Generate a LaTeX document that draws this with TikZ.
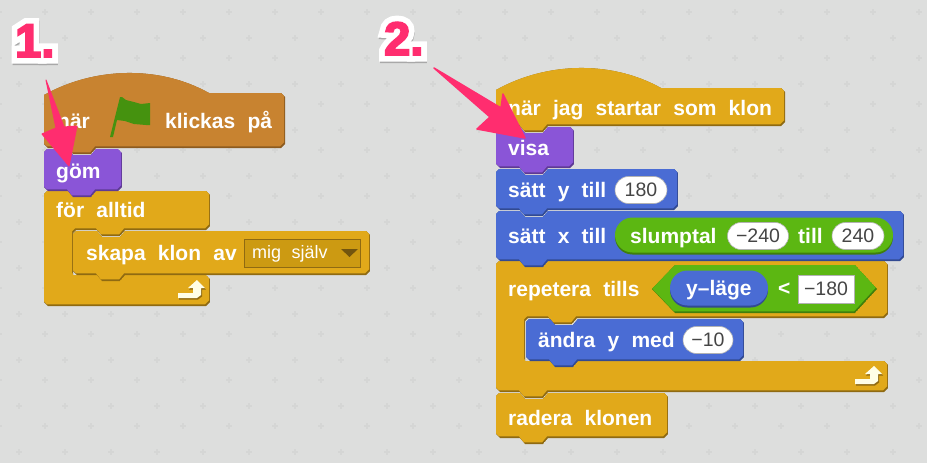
\documentclass[tikz,border=0pt]{standalone}
\usepackage{fontspec}
\setmainfont{Liberation Sans}[WordSpace=2.1]
\newfontfamily\ringfont{Liberation Sans Bold}[FakeBold=28]
\newfontfamily\shadefont{Liberation Sans Bold}[FakeBold=26]
\newfontfamily\numberfont{Liberation Sans Bold}[FakeBold=4]
\usetikzlibrary{shapes.misc,shadows}

\definecolor{sheetgrey}{HTML}{DDDEDD}
\definecolor{plusgrey}{HTML}{D5D6D5}
\definecolor{arrowpink}{HTML}{FF2D6F}
\definecolor{shadowgrey}{HTML}{A8A8A8}
\definecolor{numbergrey}{HTML}{454545}
\definecolor{blockgold}{HTML}{E1A91A}
\definecolor{blockgolddark}{HTML}{8F6A12}
\definecolor{blockbrown}{HTML}{C88330}
\definecolor{blockbrowndark}{HTML}{8D5B1F}
\definecolor{blockpurple}{HTML}{8A55D7}
\definecolor{blockpurpledark}{HTML}{5E3A94}
\definecolor{blockblue}{HTML}{4A6CD4}
\definecolor{blockbluedark}{HTML}{324A92}
\definecolor{blockgreen}{HTML}{5CB712}
\definecolor{blockgreendark}{HTML}{3F7F0C}
\definecolor{flaggreen}{HTML}{45920F}
\definecolor{menugold}{HTML}{CC9A12}

% Block outlines: left, top, right, bottom (in reference pixels)
\newcommand{\stackpath}[4]{(#1,{#2+3}) -- ({#1+3},#2) -- ({#1+24},#2) -- ({#1+29},{#2+6}) -- ({#1+47},{#2+6}) -- ({#1+52},#2) -- ({#3-4},#2) -- (#3,{#2+4}) -- (#3,{#4-4}) -- ({#3-4},#4) -- ({#1+52},#4) -- ({#1+47},{#4+6}) -- ({#1+29},{#4+6}) -- ({#1+24},#4) -- ({#1+4},#4) -- (#1,{#4-4}) -- cycle}
\newcommand{\hatpath}[4]{(#1,{#2+2}) .. controls ({#1+50},{#2-26}) and ({#1+115},{#2-28}) .. ({#1+165},#2) -- ({#3-4},#2) -- (#3,{#2+4}) -- (#3,{#4-4}) -- ({#3-4},#4) -- ({#1+52},#4) -- ({#1+47},{#4+6}) -- ({#1+29},{#4+6}) -- ({#1+24},#4) -- ({#1+4},#4) -- (#1,{#4-4}) -- cycle}
% Wrapping block: left, top, right, arm bottom, inner bottom, bottom, depth of the lower bump
\newcommand{\wrappath}[7]{(#1,{#2+3}) -- ({#1+3},#2) -- ({#1+24},#2) -- ({#1+29},{#2+6}) -- ({#1+47},{#2+6}) -- ({#1+52},#2) -- ({#3-4},#2) -- (#3,{#2+4}) -- (#3,{#4-4}) -- ({#3-4},#4) -- ({#1+81},#4) -- ({#1+76},{#4+6}) -- ({#1+58},{#4+6}) -- ({#1+53},#4) -- ({#1+32},#4) -- ({#1+29},{#4+3}) -- ({#1+29},#5) -- ({#3-4},#5) -- (#3,{#5+4}) -- (#3,{#6-4}) -- ({#3-4},#6) -- ({#1+52},#6) -- ({#1+47},{#6+#7}) -- ({#1+29},{#6+#7}) -- ({#1+24},#6) -- ({#1+4},#6) -- (#1,{#6-4}) -- cycle}
% Fill an outline, leaving a dark edge at the bottom and right
\newcommand{\blockshape}[2]{%
	\begin{scope}
		\clip #2;
		\fill[#1dark] #2;
		\fill[#1,xshift=-1pt,yshift=1.6pt] #2;
	\end{scope}
}

\begin{document}
\begin{tikzpicture}[
		x=1pt,y=-1pt,
		blocklabel/.style={
			text=white,
			anchor=base west,
			inner sep=0pt,
			font=\fontsize{21}{24}\selectfont\bfseries,
		},
		numfield/.style={
			rounded rectangle,
			fill=white,
			draw=black!30,
			line width=0.6pt,
			inner sep=0pt,
			minimum height=27pt,
			text=numbergrey,
			font=\fontsize{19.5}{22}\selectfont,
		},
		reporter/.style={
			rounded rectangle,
			inner sep=0pt,
			general shadow={shadow xshift=0pt,shadow yshift=-2pt,fill=#1dark},
			fill=#1,
		},
		biglabel/.style={
			anchor=base west,
			inner sep=0pt,
		},
	]
	\useasboundingbox (0,0) rectangle (927,463);
	% Draw the sheet and its plus marks
	\fill[sheetgrey] (0,0) rectangle (927,463);
	\foreach \i in {0,...,20} {
		\foreach \j in {-1,...,9} {
			\draw[plusgrey,line width=1.4pt] ({19+46*\i-3},{38+46*\j}) -- ++(6,0) ({19+46*\i},{38+46*\j-3}) -- ++(0,6);
			\draw[plusgrey,line width=1.4pt] ({-1+46*\i-3},{58+46*\j}) -- ++(6,0) ({-1+46*\i},{58+46*\j-3}) -- ++(0,6);
		}
	}
	% Draw the first stack, lowest block first
	\blockshape{blockgold}{\wrappath{44}{191}{210}{230}{275}{306}{0}}
	\blockshape{blockgold}{\stackpath{73}{231}{370}{275}}
	\blockshape{blockpurple}{\stackpath{44}{149}{122}{191}}
	\blockshape{blockbrown}{\hatpath{44}{93}{285}{148}}
	% Draw the flag
	\fill[flaggreen] (110,137) -- (120,97) -- (122,97) -- (126,100) -- (134,102) -- (141,104) -- (150,103) -- (150,125) -- (146,125) -- (134,124) -- (125,121) -- (117,120) -- (113,137) -- cycle;
	% Draw the first stack's labels
	\node[blocklabel] (whenlabel) at (57,128) {när};
	\node[blocklabel] (clickedlabel) at (165,128) {klickas på};
	\node[blocklabel] (hidelabel) at (56,178) {göm};
	\node[blocklabel] (foreverlabel) at (56,217) {för alltid};
	\node[blocklabel] (clonelabel) at (86,260) {skapa klon av};
	% Draw the menu
	\node[fill=menugold,draw=blockgolddark,line width=0.8pt,minimum width=116pt,minimum height=28pt,inner sep=0pt] (menubox) at (302,253.5) {};
	\node[anchor=base west,inner sep=0pt,text=white,font=\fontsize{18}{20}\selectfont] (menulabel) at (252,258) {mig själv};
	\fill[blockgolddark!80!black] (341,249) -- (358,249) -- (349.5,257) -- cycle;
	% Draw the second stack, lowest block first
	\blockshape{blockgold}{\stackpath{496}{393}{668}{438}}
	\blockshape{blockgold}{\wrappath{496}{261}{888}{318}{361}{392}{6}}
	\blockshape{blockblue}{\stackpath{526}{319}{744}{361}}
	\blockshape{blockblue}{\stackpath{496}{211}{904}{261}}
	\blockshape{blockblue}{\stackpath{496}{169}{678}{210}}
	\blockshape{blockpurple}{\stackpath{496}{127}{574}{168}}
	\blockshape{blockgold}{\hatpath{496}{88}{785}{126}}
	% Draw the second stack's labels
	\node[blocklabel] (startlabel) at (508,115) {när jag startar som klon};
	\node[blocklabel] (showlabel) at (508,155) {visa};
	\node[blocklabel] (setylabel) at (508,197) {sätt y till};
	\node[blocklabel] (setxlabel) at (508,243) {sätt x till};
	\node[blocklabel] (repeatlabel) at (508,296) {repetera tills};
	\node[blocklabel] (changelabel) at (538,347) {ändra y med};
	\node[blocklabel] (deletelabel) at (508,425) {radera klonen};
	% Draw the number fields and the reporters
	\node[numfield,minimum width=52pt] (starty) at (641,190) {180};
	\node[reporter=blockgreen,minimum width=278pt,minimum height=35pt] (random) at (754,235) {};
	\node[blocklabel] (randomlabel) at (630,243) {slumptal};
	\node[numfield,minimum width=61pt] (randomlow) at (758,236) {−240};
	\node[blocklabel] (randomto) at (798,243) {till};
	\node[numfield,minimum width=52pt] (randomhigh) at (858,236) {240};
	\node[numfield,minimum width=50pt] (stepy) at (708,340) {−10};
	% Draw the condition
	\blockshape{blockgreen}{(652,289) -- (675,265) -- (855,265) -- (877,289) -- (855,313) -- (675,313) -- cycle}
	\node[reporter=blockblue,minimum width=98pt,minimum height=35pt] (ypos) at (719,288) {};
	\node[blocklabel] (yposlabel) at (686,295) {y–läge};
	\node[blocklabel] (lesslabel) at (778,295) {<};
	\node[fill=white,draw=black!30,line width=0.5pt,minimum width=56pt,minimum height=28pt,inner sep=0pt,text=numbergrey,font=\fontsize{19.5}{22}\selectfont] (limit) at (826,289) {−180};
	% Draw the return arrows
	\foreach \rx/\ry in {197/280,874/366} {
		\fill[blockgolddark] ({\rx+1},{\ry+1.5}) -- ++(8,8) -- ++(-4,0) -- ++(0,7) -- ++(-4,3) -- ++(-19,0) -- ++(0,-5) -- ++(15,0) -- ++(0,-5) -- ++(-5,0) -- cycle;
		\fill[white!90!yellow] (\rx,\ry) -- ++(8,8) -- ++(-4,0) -- ++(0,7) -- ++(-4,3) -- ++(-19,0) -- ++(0,-5) -- ++(15,0) -- ++(0,-5) -- ++(-5,0) -- cycle;
	}
	% Draw the pink arrows
	\fill[arrowpink,draw=arrowpink,line width=1pt,line join=round] (46,80) -- (64,127) -- (77,126) -- (69,166) -- (42,134) -- (56,128) -- cycle;
	\fill[arrowpink,draw=arrowpink,line width=1.5pt,line join=round] (434,68) -- (501,108) -- (503,94) -- (525,138) -- (477,129) -- (490,117) -- cycle;
	% Draw the step numbers
	\foreach \lx/\ly/\txt/\nm in {15/57/1./one,384/55/2./two} {
		\node[biglabel,text=shadowgrey,font=\fontsize{47}{50}\shadefont] (shade\nm) at (\lx+0.5,\ly+2) {\txt};
		\node[biglabel,text=white,font=\fontsize{47}{50}\ringfont] (ring\nm) at (\lx,\ly) {\txt};
		\node[biglabel,text=arrowpink,font=\fontsize{47}{50}\numberfont] (step\nm) at (\lx,\ly) {\txt};
	}
\end{tikzpicture}
\end{document}
